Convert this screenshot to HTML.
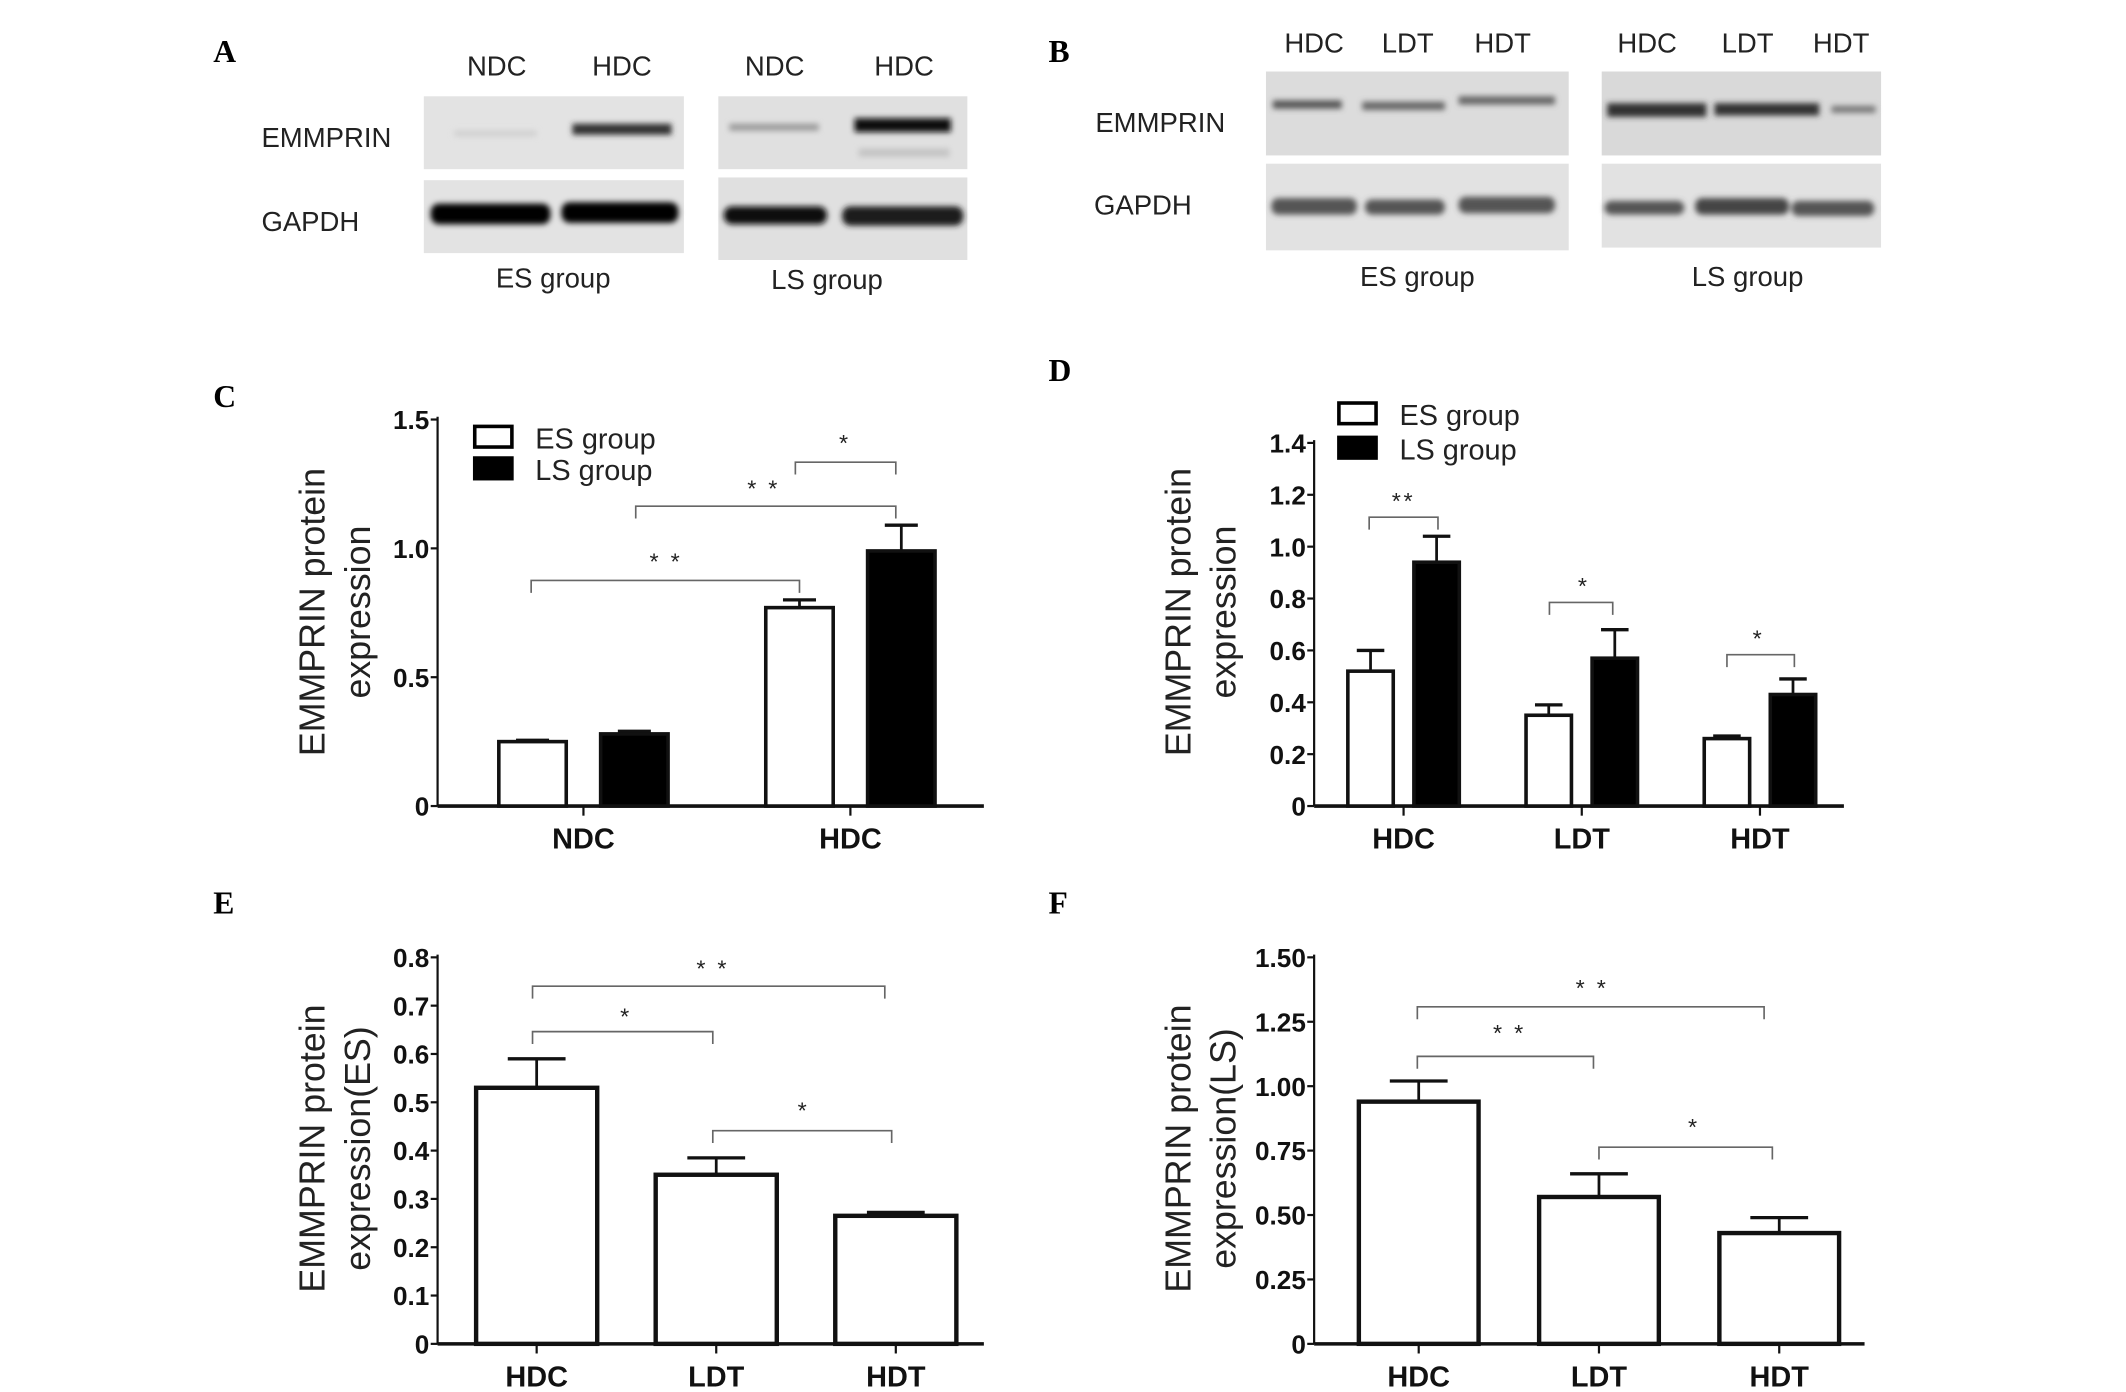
<!DOCTYPE html>
<html><head><meta charset="utf-8">
<style>
html,body{margin:0;padding:0;background:#fff;}
svg{display:block;}
.lbl{font-family:"Liberation Sans",Arial,sans-serif;fill:#222;}
.tick{font-family:"Liberation Sans Narrow","Liberation Sans",sans-serif;font-weight:bold;fill:#111;}
.panel{font-family:"Liberation Serif",serif;font-weight:bold;fill:#000;}
</style></head>
<body>
<svg id="fig" width="2126" height="1392" viewBox="0 0 1545 1012" preserveAspectRatio="none" xmlns="http://www.w3.org/2000/svg">
<defs><filter id="blur" x="-20%" y="-50%" width="140%" height="200%"><feGaussianBlur stdDeviation="2.2"/></filter></defs>
<g id="blots">
 <text class="panel" x="155" y="45" font-size="23">A</text>
 <text class="lbl" x="361" y="55" font-size="20" text-anchor="middle">NDC</text>
 <text class="lbl" x="452" y="55" font-size="20" text-anchor="middle">HDC</text>
 <text class="lbl" x="563" y="55" font-size="20" text-anchor="middle">NDC</text>
 <text class="lbl" x="657" y="55" font-size="20" text-anchor="middle">HDC</text>
 <text class="lbl" x="190" y="107" font-size="20">EMMPRIN</text>
 <text class="lbl" x="190" y="168" font-size="20">GAPDH</text>
 <rect x="308" y="70" width="189" height="53" fill="#e3e3e3"/>
 <rect x="308" y="131" width="189" height="53" fill="#e3e3e3"/>
 <rect x="522" y="70" width="181" height="53" fill="#e0e0e0"/>
 <rect x="522" y="129" width="181" height="60" fill="#e0e0e0"/>
 <g filter="url(#blur)">
  <rect x="330" y="95" width="60" height="4" fill="#cfcfcf"/>
  <rect x="416" y="90" width="72" height="8" fill="#333"/>
  <rect x="313" y="148" width="87" height="15" rx="6" fill="#000"/>
  <rect x="408" y="147" width="85" height="15" rx="6" fill="#000"/>
  <rect x="530" y="90" width="65" height="5" fill="#9a9a9a"/>
  <rect x="621" y="86" width="70" height="10" fill="#0a0a0a"/>
  <rect x="624" y="108" width="66" height="6" fill="#c4c4c4"/>
  <rect x="526" y="150" width="75" height="13" rx="6" fill="#111"/>
  <rect x="612" y="150" width="88" height="14" rx="6" fill="#1a1a1a"/>
 </g>
 <text class="lbl" x="402" y="209" font-size="20" text-anchor="middle">ES group</text>
 <text class="lbl" x="601" y="210" font-size="20" text-anchor="middle">LS group</text>

 <text class="panel" x="762" y="45" font-size="23">B</text>
 <text class="lbl" x="955" y="38" font-size="20" text-anchor="middle">HDC</text>
 <text class="lbl" x="1023" y="38" font-size="20" text-anchor="middle">LDT</text>
 <text class="lbl" x="1092" y="38" font-size="20" text-anchor="middle">HDT</text>
 <text class="lbl" x="1197" y="38" font-size="20" text-anchor="middle">HDC</text>
 <text class="lbl" x="1270" y="38" font-size="20" text-anchor="middle">LDT</text>
 <text class="lbl" x="1338" y="38" font-size="20" text-anchor="middle">HDT</text>
 <text class="lbl" x="796" y="96" font-size="20">EMMPRIN</text>
 <text class="lbl" x="795" y="156" font-size="20">GAPDH</text>
 <rect x="920" y="52" width="220" height="61" fill="#dcdcdc"/>
 <rect x="920" y="119" width="220" height="63" fill="#e2e2e2"/>
 <rect x="1164" y="52" width="203" height="61" fill="#d9d9d9"/>
 <rect x="1164" y="119" width="203" height="61" fill="#e2e2e2"/>
 <g filter="url(#blur)">
  <rect x="925" y="73" width="50" height="6" fill="#555"/>
  <rect x="990" y="74" width="60" height="6" fill="#666"/>
  <rect x="1060" y="70" width="70" height="6" fill="#666"/>
  <rect x="1168" y="75" width="72" height="10" fill="#333"/>
  <rect x="1246" y="75" width="76" height="9" fill="#333"/>
  <rect x="1331" y="77" width="32" height="5" fill="#777"/>
  <rect x="924" y="144" width="62" height="12" rx="5" fill="#555"/>
  <rect x="992" y="145" width="58" height="11" rx="5" fill="#555"/>
  <rect x="1060" y="143" width="70" height="12" rx="5" fill="#555"/>
  <rect x="1166" y="146" width="58" height="10" rx="5" fill="#555"/>
  <rect x="1232" y="144" width="68" height="12" rx="5" fill="#444"/>
  <rect x="1302" y="146" width="60" height="11" rx="5" fill="#555"/>
 </g>
 <text class="lbl" x="1030" y="208" font-size="20" text-anchor="middle">ES group</text>
 <text class="lbl" x="1270" y="208" font-size="20" text-anchor="middle">LS group</text>
</g>
<g id="charts"></g>
</svg>
<script>
// Panel C data
const cCategories = ["NDC", "HDC"];
const cEsValues = [0.25, 0.77];
const cEsErrors = [0.005, 0.03];
const cLsValues = [0.28, 0.99];
const cLsErrors = [0.01, 0.10];
const cTicks = [0, 0.5, 1.0, 1.5];
const cTickLabels = ["0", "0.5", "1.0", "1.5"];
// Panel D data
const dCategories = ["HDC", "LDT", "HDT"];
const dEsValues = [0.52, 0.35, 0.26];
const dEsErrors = [0.08, 0.04, 0.01];
const dLsValues = [0.94, 0.57, 0.43];
const dLsErrors = [0.10, 0.11, 0.06];
const dTicks = [0, 0.2, 0.4, 0.6, 0.8, 1.0, 1.2, 1.4];
const dTickLabels = ["0", "0.2", "0.4", "0.6", "0.8", "1.0", "1.2", "1.4"];
// Panel E data
const eCategories = ["HDC", "LDT", "HDT"];
const eValues = [0.53, 0.35, 0.265];
const eErrors = [0.06, 0.035, 0.007];
const eTicks = [0, 0.1, 0.2, 0.3, 0.4, 0.5, 0.6, 0.7, 0.8];
const eTickLabels = ["0", "0.1", "0.2", "0.3", "0.4", "0.5", "0.6", "0.7", "0.8"];
// Panel F data
const fCategories = ["HDC", "LDT", "HDT"];
const fValues = [0.94, 0.57, 0.43];
const fErrors = [0.08, 0.09, 0.06];
const fTicks = [0, 0.25, 0.5, 0.75, 1.0, 1.25, 1.5];
const fTickLabels = ["0", "0.25", "0.50", "0.75", "1.00", "1.25", "1.50"];

const NS = "http://www.w3.org/2000/svg";
const root = document.getElementById("charts");
function mk(tag, attrs, parent, txt) {
  const e = document.createElementNS(NS, tag);
  for (const k in attrs) e.setAttribute(k, attrs[k]);
  if (txt !== undefined) e.textContent = txt;
  (parent || root).appendChild(e);
  return e;
}

function drawPanel(cfg, cats, ticks, tickLabels, series) {
  const g = mk("g", {}, root);
  
  
  const y = v => cfg.y0 - (v - 0) / cfg.vmax * (cfg.y0 - cfg.ytop);
  const x = i => cfg.cx[0] + i * cfg.step;
  const pl = mk("text", { class: "panel", x: cfg.lx, y: cfg.ly, "font-size": 23 }, g, cfg.letter);
  
  
  // axes
  const ya = mk("line", { x1: cfg.ax, y1: y(cfg.vmax) - 2, x2: cfg.ax, y2: cfg.y0, stroke: "#111", "stroke-width": 1.6 }, g);
  
  
  const xa = mk("line", { x1: cfg.ax, y1: cfg.y0, x2: cfg.xend, y2: cfg.y0, stroke: "#111", "stroke-width": 2.6 }, g);
  
  
  ticks.forEach((t, i) => {
    mk("line", { x1: cfg.ax - 5, y1: y(t), x2: cfg.ax, y2: y(t), stroke: "#111", "stroke-width": 1.6 }, g);
    const tl = mk("text", { class: "tick", x: cfg.ax - 6, y: y(t) + 7, "font-size": 19, "text-anchor": "end" }, g, tickLabels[i]);
    
    
  });
  cats.forEach((c, i) => {
    mk("line", { x1: x(i), y1: cfg.y0, x2: x(i), y2: cfg.y0 + 7, stroke: "#111", "stroke-width": 1.6 }, g);
    const xl = mk("text", { class: "tick", x: x(i), y: cfg.y0 + 31, "font-size": 21, "text-anchor": "middle" }, g, c);
    
    
  });
  // y title
  const tt = mk("text", { class: "lbl", transform: `translate(${cfg.tx},${cfg.ty}) rotate(-90)`, "font-size": 26, "text-anchor": "middle", fill: "#222" }, g);
  
  
  mk("tspan", { x: 0, y: 0 }, tt, cfg.title1);
  mk("tspan", { x: 0, y: 33 }, tt, cfg.title2);
  // bars
  series.forEach(s => {
    s.values.forEach((v, i) => {
      const cx = x(i) + s.off;
      const top = y(v), eTop = y(v + s.errors[i]);
      const el = mk("line", { x1: cx, y1: top, x2: cx, y2: eTop, stroke: "#111", "stroke-width": 2 }, g);
      
      
      mk("line", { x1: cx - s.cap, y1: eTop, x2: cx + s.cap, y2: eTop, stroke: "#111", "stroke-width": 2.4 }, g);
      const r = mk("rect", { x: cx - s.w / 2, y: top, width: s.w, height: cfg.y0 - top, fill: s.fill, stroke: "#111", "stroke-width": s.sw }, g);
      
      
    });
  });
  return { g, y, x };
}

function bracket(g, x1, x2, yy, label, lx, ly) {
  const p = mk("path", { d: `M${x1},${yy + 9} V${yy} H${x2} V${yy + 9}`, fill: "none", stroke: "#666", "stroke-width": 1.2 }, g);
  
  
  const t = mk("text", { class: "lbl", x: lx, y: ly, "font-size": 17, "text-anchor": "middle", fill: "#333", "letter-spacing": 2 }, g, label);
  
  
}

function legend(g, x0, y1, y2) {
  [["ES group", "#fff", y1], ["LS group", "#000", y2]].forEach(([n, f, yy]) => {
    const r = mk("rect", { x: x0, y: yy - 8, width: 27, height: 15, fill: f, stroke: "#000", "stroke-width": 2.6 }, g);
    
    
    const t = mk("text", { class: "lbl", x: x0 + 44, y: yy + 8, "font-size": 21, fill: "#222" }, g, n);
    
    
  });
}

// Panel C
const C = drawPanel({ name: "chart-c", letter: "C", lx: 155, ly: 296, ax: 318, xend: 715, y0: 586, ytop: 305, vmax: 1.5, cx: [424], step: 194, tx: 236, ty: 445, title1: "EMMPRIN protein", title2: "expression" },
  cCategories, cTicks, cTickLabels,
  [{ key: "es", values: cEsValues, errors: cEsErrors, off: -37, w: 49, cap: 12, fill: "#fff", sw: 2.6 },
   { key: "ls", values: cLsValues, errors: cLsErrors, off: 37, w: 49, cap: 12, fill: "#000", sw: 2.6 }]);
legend(C.g, 345, 318, 341);
bracket(C.g, 386, 581, 422, "* *", 484, 414);
bracket(C.g, 462, 651, 368, "* *", 555, 361);
bracket(C.g, 578, 651, 336, "*", 614, 328);

// Panel D
const D = drawPanel({ name: "chart-d", letter: "D", lx: 762, ly: 277, ax: 955, xend: 1340, y0: 586, ytop: 322, vmax: 1.4, cx: [1020], step: 129.5, tx: 865, ty: 445, title1: "EMMPRIN protein", title2: "expression" },
  dCategories, dTicks, dTickLabels,
  [{ key: "es", values: dEsValues, errors: dEsErrors, off: -24, w: 33, cap: 10, fill: "#fff", sw: 2.6 },
   { key: "ls", values: dLsValues, errors: dLsErrors, off: 24, w: 33, cap: 10, fill: "#000", sw: 2.6 }]);
legend(D.g, 973, 301, 326);
bracket(D.g, 995, 1045, 376, "**", 1020, 370);
bracket(D.g, 1126, 1172, 438, "*", 1151, 432);
bracket(D.g, 1255, 1304, 476, "*", 1278, 470);

// Panel E
const E = drawPanel({ name: "chart-e", letter: "E", lx: 155, ly: 664, ax: 318, xend: 715, y0: 977, ytop: 696, vmax: 0.8, cx: [390], step: 130.5, tx: 236, ty: 835, title1: "EMMPRIN protein", title2: "expression(ES)" },
  eCategories, eTicks, eTickLabels,
  [{ key: "es", values: eValues, errors: eErrors, off: 0, w: 88, cap: 21, fill: "#fff", sw: 3.2 }]);
bracket(E.g, 387, 643, 717, "* *", 518, 710);
bracket(E.g, 387, 518, 750, "*", 455, 745);
bracket(E.g, 518, 648, 822, "*", 584, 813);

// Panel F
const F = drawPanel({ name: "chart-f", letter: "F", lx: 762, ly: 664, ax: 955, xend: 1355, y0: 977, ytop: 696, vmax: 1.5, cx: [1031], step: 131, tx: 865, ty: 835, title1: "EMMPRIN protein", title2: "expression(LS)" },
  fCategories, fTicks, fTickLabels,
  [{ key: "ls", values: fValues, errors: fErrors, off: 0, w: 87, cap: 21, fill: "#fff", sw: 3.2 }]);
bracket(F.g, 1030, 1282, 732, "* *", 1157, 724);
bracket(F.g, 1030, 1158, 768, "* *", 1097, 757);
bracket(F.g, 1162, 1288, 834, "*", 1231, 825);
</script>
</body></html>
